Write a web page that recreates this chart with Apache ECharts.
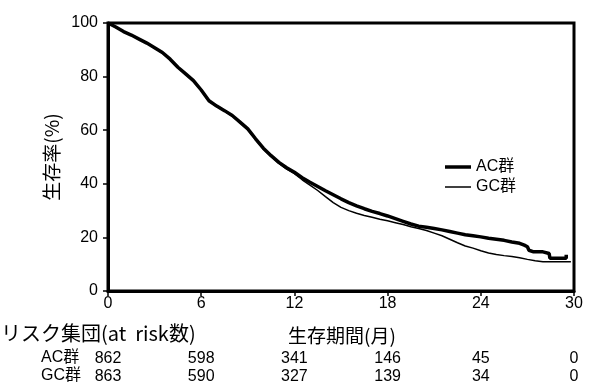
<!DOCTYPE html>
<html>
<head>
<meta charset="utf-8">
<script src="https://cdn.jsdelivr.net/npm/echarts@6/dist/echarts.min.js"></script>
<style>html,body{margin:0;padding:0;background:#fff;}#c{width:600px;height:386px;}</style>
</head>
<body>
<div id="c"></div>
<script>
var FONT = '"Liberation Sans", "Noto Sans CJK JP", sans-serif';
var seriesNames = ['AC群', 'GC群'];
var xTicks = [0, 6, 12, 18, 24, 30];
var riskAC = [862, 598, 341, 146, 45, 0];
var riskGC = [863, 590, 327, 139, 34, 0];

var acMonths = [0,0.5,1,1.5,2,2.5,3,3.5,4,4.5,5,5.5,6,6.5,7,7.5,8,8.5,9,9.5,10,10.5,11,11.5,12,12.5,13,13.5,14,14.5,15,15.5,16,16.5,17,17.5,18,18.5,19,19.5,20,20.5,21,21.5,22,22.5,23,23.5,24,24.5,25,25.5,26,26.5,26.8,27.0,27.1,27.4,28.0,28.1,28.4,28.45,29.5,29.5];
var acSurv   = [100,98.5,96.8,95.5,94,92.5,90.8,89,86.5,83.5,81,78.5,75,71,69,67.3,65.5,63,60.5,56.8,53.3,50.5,48,46,44.3,42.3,40.6,39,37.4,35.9,34.4,33,31.8,30.7,29.7,28.9,28,27,26,25,24.2,23.8,23.3,22.8,22.2,21.6,21,20.6,20.2,19.7,19.3,18.9,18.3,17.8,17.1,16.5,15.2,14.6,14.6,14.0,14.0,12.2,12.2,13.5];

var gcMonths = [0,0.5,1,1.5,2,2.5,3,3.5,4,4.5,5,5.5,6,6.5,7,7.5,8,8.5,9,9.5,10,10.5,11,11.5,12,12.5,13,13.5,14,14.5,15,15.5,16,16.5,17,17.5,18,18.5,19,19.5,20,20.5,21,21.5,22,22.5,23,23.5,24,24.5,25,25.5,26,26.5,27,27.5,28,29.8];
var gcSurv   = [100,98.4,96.7,95.4,93.9,92.4,90.6,88.8,86.3,83.3,80.8,78.3,74.8,70.8,68.8,67.1,65.3,62.8,60.2,56.5,53,50.2,47.6,45.5,43.8,41.5,39.5,37.5,35.2,33,31.2,30,29,28.2,27.5,26.8,26.2,25.5,24.8,24,23.3,22.6,21.6,20.6,19.3,18,16.8,16,15,14.2,13.6,13.2,12.9,12.4,11.8,11.3,10.9,10.9];

function pairs(xs, ys){ return xs.map(function(x,i){ return [x, ys[i]]; }); }

var chart = echarts.init(document.getElementById('c'), null, {renderer:'canvas'});
chart.setOption({
  animation: false,
  textStyle: {fontFamily: FONT, color:'#000'},
  grid: {left:108, right:26, top:23, bottom:95, show:true, borderColor:'#000', borderWidth:3},
  legend: [
    {data:[seriesNames[0]], icon:'rect', orient:'vertical', left:440, top:154, itemWidth:26, itemHeight:3.5,
     textStyle:{fontSize:16, fontFamily:FONT, color:'#000'}},
    {data:[seriesNames[1]], icon:'rect', orient:'vertical', left:440, top:174, itemWidth:26, itemHeight:1.5,
     textStyle:{fontSize:16, fontFamily:FONT, color:'#000'}}
  ],
  xAxis: {
    type:'value', min:0, max:30, interval:6,
    axisLine:{show:true, lineStyle:{color:'#000', width:3}},
    axisTick:{show:true, length:5, lineStyle:{color:'#000', width:1.5}},
    splitLine:{show:false},
    axisLabel:{
      margin:5, color:'#000', fontFamily:FONT,
      formatter:function(v){
        var i = xTicks.indexOf(v);
        return '{v|' + v + '}\n{h| }\n{r|' + riskAC[i] + '}\n{g|' + riskGC[i] + '}';
      },
      rich:{
        v:{fontSize:16, lineHeight:16, fontFamily:FONT, color:'#000'},
        h:{fontSize:10, lineHeight:37},
        r:{fontSize:16, lineHeight:19, fontFamily:FONT, color:'#000'},
        g:{fontSize:16, lineHeight:18, fontFamily:FONT, color:'#000'}
      }
    }
  },
  yAxis: {
    type:'value', min:0, max:100, interval:20,
    axisLine:{show:true, lineStyle:{color:'#000', width:3}},
    axisTick:{show:true, length:5, lineStyle:{color:'#000', width:1.5}},
    splitLine:{show:false},
    axisLabel:{fontSize:16, margin:10, color:'#000', fontFamily:FONT}
  },
  series: [
    {name:seriesNames[1], type:'line', showSymbol:false, symbol:'none', z:2,
     lineStyle:{color:'#000', width:1.5}, itemStyle:{color:'#000'}, data:pairs(gcMonths, gcSurv)},
    {name:seriesNames[0], type:'line', showSymbol:false, symbol:'none', z:3,
     lineStyle:{color:'#000', width:3.5}, itemStyle:{color:'#000'}, data:pairs(acMonths, acSurv)}
  ],
  graphic: [
    {type:'text', left:1, top:323, style:{text:'リスク集団(at  risk数)', font:'20px "Noto Sans CJK JP", sans-serif', fill:'#000'}},
    {type:'text', left:288, top:326, style:{text:'生存期間(月)', font:'19px "Noto Sans CJK JP", sans-serif', fill:'#000'}},
    {type:'text', left:41, top:350, style:{text:'AC群', font:'16px "Liberation Sans", "Noto Sans CJK JP", sans-serif', fill:'#000'}},
    {type:'text', left:41, top:368, style:{text:'GC群', font:'16px "Liberation Sans", "Noto Sans CJK JP", sans-serif', fill:'#000'}},
    {type:'text', x:52, y:157, rotation:Math.PI/2, style:{text:'生存率(%)', font:'19px "Noto Sans CJK JP", sans-serif', fill:'#000', align:'center', verticalAlign:'middle'}}
  ]
});
</script>
</body>
</html>
